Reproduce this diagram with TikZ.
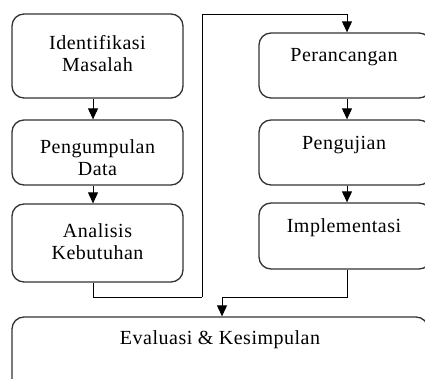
\documentclass[tikz,border=0pt]{standalone}
\usepackage{fontspec}
\setmainfont{Liberation Serif}[LetterSpace=2.5]
\usetikzlibrary{arrows.meta,calc}
\begin{document}
\begin{tikzpicture}[x=1pt,y=-1pt,
  box/.style={draw=black!80,line width=1.3pt,rounded corners=12pt,inner sep=0pt},
  lbl/.style={font=\fontsize{20}{22}\selectfont,align=center,inner sep=0pt},
  conn/.style={line width=0.9pt},
  arr/.style={conn,-{Triangle[length=11pt,width=10pt]}}]
\useasboundingbox (0,0) rectangle (425,379);
\clip (0,0) rectangle (425,379);
% left column boxes
\node[box,minimum width=171pt,minimum height=84pt] (idm) at (97.5,56) {};
\node[box,minimum width=171pt,minimum height=65pt] (pen) at (97.5,152.5) {};
\node[box,minimum width=171pt,minimum height=78pt] (ana) at (97.5,243) {};
% right column boxes
\node[box,minimum width=172pt,minimum height=65pt] (per) at (345,65.5) {};
\node[box,minimum width=172pt,minimum height=65pt] (pej) at (345,152.5) {};
\node[box,minimum width=172pt,minimum height=66pt] (imp) at (345,236) {};
% bottom box
\node[box,minimum width=416pt,minimum height=100pt] (eva) at (220,367) {};
% texts
\node[lbl] (tidm) at (97.5,54) {Identifikasi\\Masalah};
\node[lbl] (tpen) at (97.5,158) {Pengumpulan\\Data};
\node[lbl] (tana) at (97.5,241.5) {Analisis\\Kebutuhan};
\node[lbl] (tper) at (344,57) {Perancangan};
\node[lbl] (tpej) at (344,145) {Pengujian};
\node[lbl] (timp) at (344,228) {Implementasi};
\node[lbl] (teva) at (220,340) {Evaluasi \& Kesimpulan};
% connector helper coordinates
\coordinate (lx) at (93,0);
\coordinate (rx) at (347,0);
\coordinate (c1) at (202,297);
\coordinate (c2) at (347,14);
\coordinate (c3) at (222,297);
% connectors
\draw[arr] (idm.south -| lx) -- (pen.north -| lx);
\draw[arr] (pen.south -| lx) -- (ana.north -| lx);
\draw[conn] (ana.south -| lx) |- (c1);
\draw[arr] (c1) |- (c2) -- (per.north -| c2);
\draw[arr] (per.south -| rx) -- (pej.north -| rx);
\draw[arr] (pej.south -| rx) -- (imp.north -| rx);
\draw[arr] (imp.south -| rx) |- (c3) -- (eva.north -| c3);
\end{tikzpicture}
\end{document}
